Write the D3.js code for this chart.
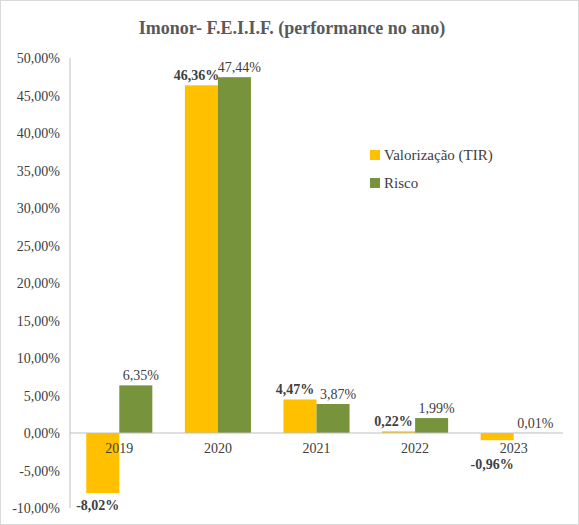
<!DOCTYPE html>
<html><head><meta charset="utf-8">
<script src="https://cdn.jsdelivr.net/npm/d3@7"></script>
<style>body{margin:0;background:#fff}text{font-family:"Liberation Serif","DejaVu Serif",serif}</style>
</head><body><svg id="c" width="579" height="525"></svg>
<script>
const categories=["2019","2020","2021","2022","2023"];
const valorizacao=[-8.02,46.36,4.47,0.22,-0.96];
const risco=[6.35,47.44,3.87,1.99,0.01];
const seriesNames=["Valorização (TIR)","Risco"];
const colors=["#FFC000","#77933C"];
const yTicks=[-10,-5,0,5,10,15,20,25,30,35,40,45,50];
const fmt=v=>v.toFixed(2).replace(".",",")+"%";
const svg=d3.select("#c");
svg.append("rect").attr("x",0.5).attr("y",0.5).attr("width",578).attr("height",524).attr("fill","#fff").attr("stroke","#d9d9d9");
svg.append("text").attr("x",292).attr("y",34).attr("text-anchor","middle").attr("font-size",18).attr("font-weight","bold").attr("fill","#595959").text("Imonor- F.E.I.I.F. (performance no ano)");
const x=d3.scaleBand().domain(categories).range([70,563]).paddingInner(0.33).paddingOuter(0.165);
const y=d3.scaleLinear().domain([-10,50]).range([508,58]);
const g=svg.append("g");
g.selectAll(".yt").data(yTicks).enter().append("text").attr("x",60).attr("y",d=>y(d)+5).attr("text-anchor","end").attr("font-size",14).attr("fill","#404040").text(d=>fmt(d));
g.append("line").attr("x1",70).attr("x2",70).attr("y1",58).attr("y2",508).attr("stroke","#bfbfbf");
const series=[valorizacao,risco];
series.forEach((s,i)=>{
  const bw=x.bandwidth()/2;
  g.selectAll(".b"+i).data(s).enter().append("rect")
   .attr("x",(d,j)=>x(categories[j])+i*bw).attr("width",bw)
   .attr("y",d=>y(Math.max(0,d))).attr("height",d=>Math.abs(y(d)-y(0))).attr("fill",colors[i]);
  g.selectAll(".l"+i).data(s).enter().append("text")
   .attr("x",(d,j)=>x(categories[j])+i*bw+bw/2+(i===0?-5:5)).attr("y",d=>d>=0?y(d)-5:Math.max(y(d)+17,y(0)+36))
   .attr("text-anchor","middle").attr("font-size",14).attr("font-weight",i===0?"bold":"normal").attr("fill","#404040").text(d=>fmt(d));
});
g.append("line").attr("x1",70).attr("x2",563).attr("y1",y(0)).attr("y2",y(0)).attr("stroke","#bfbfbf");
g.selectAll(".xt").data(categories).enter().append("text").attr("x",d=>x(d)+x.bandwidth()/2).attr("y",y(0)+20).attr("text-anchor","middle").attr("font-size",14).attr("fill","#404040").text(d=>d);
const lg=svg.append("g");
seriesNames.forEach((n,i)=>{
  lg.append("rect").attr("x",370).attr("y",150+i*28).attr("width",10).attr("height",10).attr("fill",colors[i]);
  lg.append("text").attr("x",384).attr("y",160+i*28).attr("font-size",15).attr("fill","#404040").text(n);
});
</script></body></html>
